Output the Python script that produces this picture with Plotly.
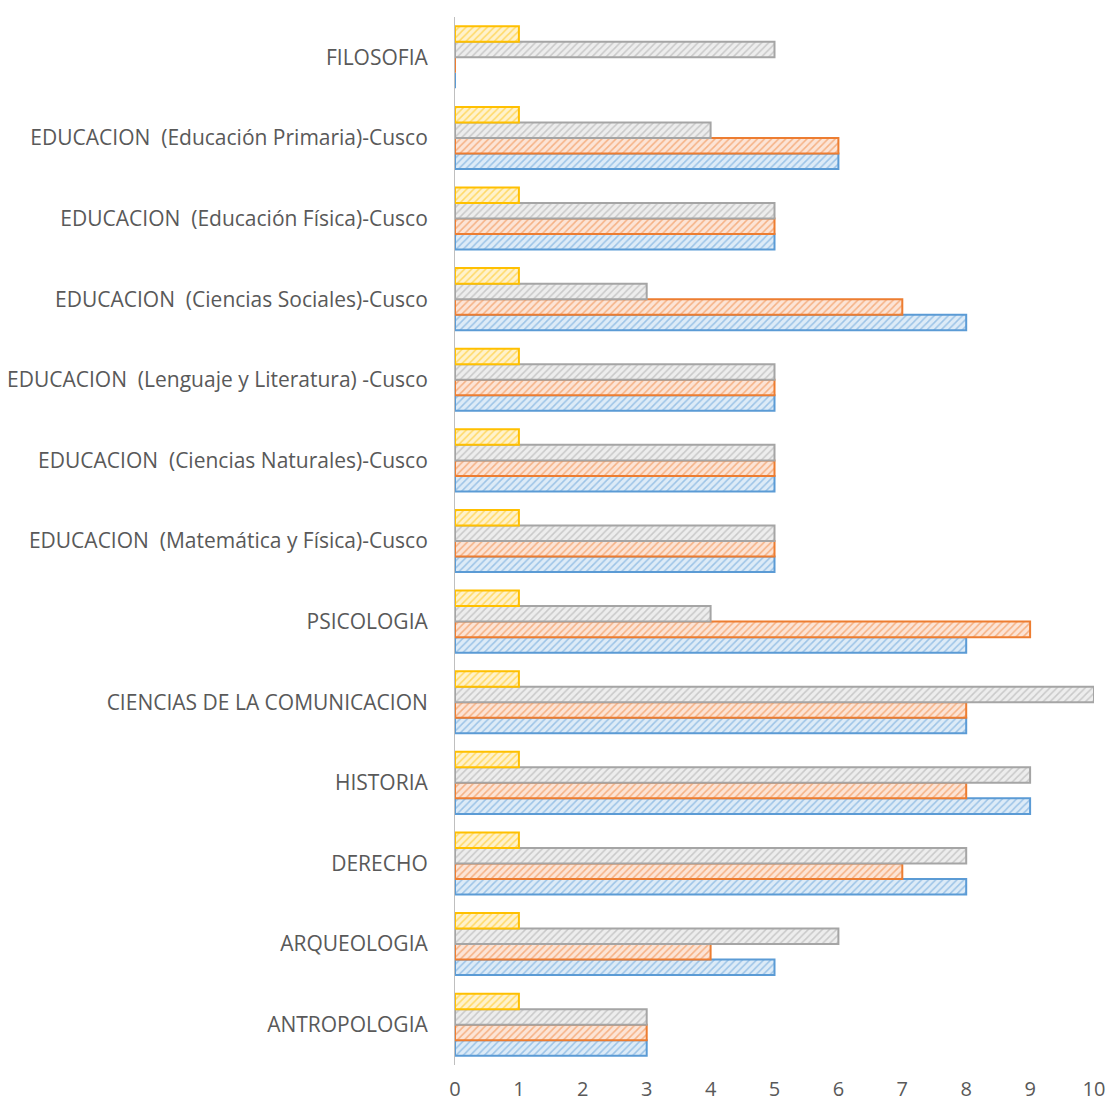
import plotly.graph_objects as go

categories = [
    "ANTROPOLOGIA",
    "ARQUEOLOGIA",
    "DERECHO",
    "HISTORIA",
    "CIENCIAS DE LA COMUNICACION",
    "PSICOLOGIA",
    "EDUCACION \u00a0(Matemática y Física)-Cusco",
    "EDUCACION \u00a0(Ciencias Naturales)-Cusco",
    "EDUCACION \u00a0(Lenguaje y Literatura) -Cusco",
    "EDUCACION \u00a0(Ciencias Sociales)-Cusco",
    "EDUCACION \u00a0(Educación Física)-Cusco",
    "EDUCACION \u00a0(Educación Primaria)-Cusco",
    "FILOSOFIA",
]

serie_azul = [3, 5, 8, 9, 8, 8, 5, 5, 5, 8, 5, 6, 0]
serie_naranja = [3, 4, 7, 8, 8, 9, 5, 5, 5, 7, 5, 6, 0]
serie_gris = [3, 6, 8, 9, 10, 4, 5, 5, 5, 3, 5, 4, 5]
serie_amarilla = [1, 1, 1, 1, 1, 1, 1, 1, 1, 1, 1, 1, 1]

series = [
    ("Serie 1", serie_azul, "#5B9BD5", "#DDEBF7"),
    ("Serie 2", serie_naranja, "#ED7D31", "#FCE4D6"),
    ("Serie 3", serie_gris, "#A5A5A5", "#EDEDED"),
    ("Serie 4", serie_amarilla, "#FFC000", "#FFF2CC"),
]

fig = go.Figure()
for name, vals, edge, bg in series:
    fig.add_trace(go.Bar(
        y=categories, x=vals, name=name, orientation="h",
        marker=dict(
            color=bg,
            line=dict(color=edge, width=2),
            pattern=dict(shape="/", fgcolor=edge, bgcolor=bg, size=5, solidity=0.3),
        ),
    ))

fig.update_layout(
    barmode="group",
    bargap=0.23,
    bargroupgap=0,
    width=1107, height=1104,
    margin=dict(l=455, r=13, t=17, b=39, autoexpand=False),
    plot_bgcolor="white", paper_bgcolor="white",
    showlegend=False,
    font=dict(family="Open Sans, sans-serif", size=21, color="#595959"),
    xaxis=dict(range=[0, 10], tickmode="linear", dtick=1, showgrid=False,
               zeroline=False, showline=False, ticks="", ticklabelstandoff=10,
               automargin=False,
               tickfont=dict(size=20, color="#595959")),
    yaxis=dict(showgrid=False, showline=True, linecolor="#BFBFBF", linewidth=1,
               ticks="", ticklabelstandoff=22, automargin=False,
               tickfont=dict(size=21, color="#595959")),
)

fig.write_html(
    "out.html",
    config={"displayModeBar": False},
    post_script="document.body.style.margin='0';document.body.style.overflow='hidden';",
)
